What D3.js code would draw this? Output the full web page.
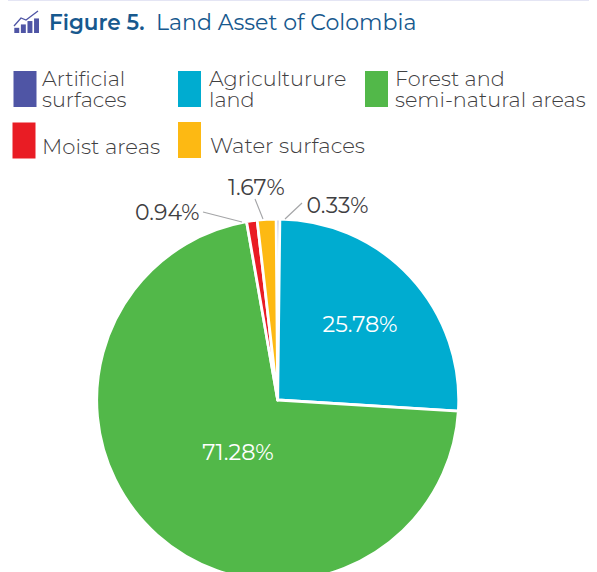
<!DOCTYPE html>
<html><head><meta charset="utf-8">
<script src="https://cdn.jsdelivr.net/npm/d3@7/dist/d3.min.js"></script>
<style>html,body{margin:0;padding:0;background:#fff}svg{display:block}text{font-family:Montserrat,"Open Sans","Noto Sans",sans-serif}</style>
</head><body><svg id="c" width="597" height="572"></svg>
<script>
const categories = ["Artificial surfaces","Agriculturure land","Forest and semi-natural areas","Moist areas","Water surfaces"];
const shares = [0.33,25.78,71.28,0.94,1.67];
const shareLabels = ["0.33%","25.78%","71.28%","0.94%","1.67%"];
const sliceColors = ["#4f55a5","#00acd0","#52b849","#e91c24","#fdb913"];
const legendLines = [["Artificial","surfaces"],["Agriculturure","land"],["Forest and","semi-natural areas"],["Moist areas"],["Water surfaces"]];
const barHeights = [2,3.3,4.6,5.6];

const svg = d3.select("#c");
const ink = "#3f4042", blue = "#17598e";

svg.append("rect").attr("x",8).attr("y",0).attr("width",581).attr("height",1).attr("fill","#e4e5f4");

// header icon: rising bars under a trend line
const icon = svg.append("g").attr("fill","#4f55a5");
const ix = d3.scaleBand().domain(d3.range(4)).range([14.3,39]).paddingInner(.25);
icon.selectAll("rect").data(barHeights).join("rect")
  .attr("x",(d,i)=>ix(i)).attr("width",ix.bandwidth())
  .attr("y",d=>33-d*2.6).attr("height",d=>d*2.6);
icon.append("path").attr("fill","none").attr("stroke","#4f55a5").attr("stroke-width",1.3)
  .attr("d",d3.line()([[14,26],[21,18],[26,20],[38,11]]));

svg.append("text").attr("x",49).attr("y",30).attr("fill",blue).attr("font-size",21.5).attr("font-weight",600).text("Figure 5.");
svg.append("text").attr("x",156).attr("y",30).attr("fill",blue).attr("font-size",22.1).attr("font-weight",400).text("Land Asset of Colombia");

// legend
const legendAt = [[13.5,71,42,86,106.7],[178,71,209,86,106.7],[365,71,395,86,106.7],[12.5,122.5,42,154],[178,122,210,152.7]];
categories.forEach((c,i)=>{
  const [sx,sy,tx,y1,y2] = legendAt[i];
  svg.append("rect").attr("x",sx).attr("y",sy).attr("width",23).attr("height",36).attr("fill",sliceColors[i]);
  legendLines[i].forEach((l,j)=>svg.append("text").attr("x",tx).attr("y",j?y2:y1).attr("fill",ink)
    .attr("font-size",legendLines[i].length>1?20.8:21.2).attr("font-weight",300).text(l));
});

// pie
const cx=277.7, cy=400, r=181;
const g = svg.append("g").attr("transform",`translate(${cx},${cy})`);
const start = -0.5*Math.PI/180;
const pie = d3.pie().sort(null).value(d=>d).startAngle(start).endAngle(start+2*Math.PI);
const arc = d3.arc().innerRadius(0).outerRadius(r);
const arcs = pie(shares);
g.selectAll("path").data(arcs).join("path").attr("d",arc).attr("fill",(d,i)=>sliceColors[i]).attr("stroke","#fff").attr("stroke-width",2.8).attr("stroke-linejoin","round");

// in-slice labels
[[1,360,324],[2,238,452]].forEach(([i,x,y])=>svg.append("text").attr("x",x).attr("y",y+7.5).attr("text-anchor","middle").attr("fill","#fff").attr("font-size",22.3).attr("font-weight",400).text(shareLabels[i]));

// outside labels with leaders
[[0,306.5,213,[[285,219],[302,203]]],[3,135,219.5,[[242,222],[203,212]]],[4,228,195,[[263,219],[255,199]]]].forEach(([i,x,y,pts])=>{
  svg.append("text").attr("x",x).attr("y",y).attr("fill",ink).attr("font-size",22).attr("font-weight",400).text(shareLabels[i]);
  svg.append("path").attr("fill","none").attr("stroke","#a4a5a7").attr("stroke-width",1.1).attr("d",d3.line()(pts));
});
</script></body></html>
